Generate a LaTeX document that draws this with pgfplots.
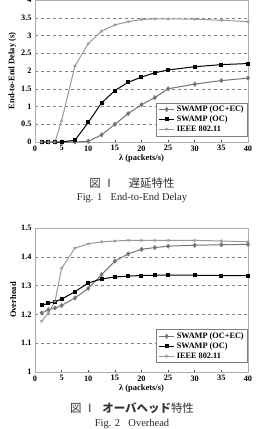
\documentclass[border=0pt]{standalone}
\usepackage{pgfplots}
\pgfplotsset{compat=1.18}
\usepackage{fontspec}
\setmainfont{Liberation Serif}
\newfontfamily\cjk{Noto Sans CJK JP}

\definecolor{ieee}{gray}{0.6}
\definecolor{ocec}{gray}{0.45}
\definecolor{gridc}{gray}{0.5}
\definecolor{framec}{gray}{0.68}

\pgfplotsset{
  swampstyle/.style={
    scale only axis,
    width=213bp,
    xmin=0, xmax=40,
    xtick={0,5,...,40},
    axis line style={framec, line width=0.6bp},
    tick style={black!70, line width=0.5bp},
    major tick length=2.5bp,
    ytick pos=left,
    xtick pos=bottom,
    xtick align=inside,
    ytick style={draw=none},
    ymajorgrids,
    grid style={gridc, dashed, line width=0.5bp},
    /pgf/number format/assume math mode=true,
    tick label style={font=\bfseries\fontsize{8.3}{9}\selectfont},
    label style={font=\bfseries\fontsize{8.5}{10}\selectfont},
    xlabel={λ (packets/s)},
    xlabel style={yshift=3bp},
    ylabel style={yshift=-2bp},
    legend cell align=left,
    legend style={draw=gray, line width=0.5bp, fill=white,
      font=\bfseries\fontsize{8.3}{9.5}\selectfont,
      inner xsep=2bp, inner ysep=1bp, row sep=-1.2bp},
    legend image post style={xscale=0.9},
  },
  ocec/.style={color=ocec, line width=1bp, mark=diamond*, mark size=1.8bp},
  oc/.style={color=black, line width=1bp, mark=square*, mark size=1.5bp},
  ieee/.style={color=ieee, line width=1bp, mark=asterisk, mark size=1.8bp,
    mark options={line width=0.5bp}},
}

\begin{document}
\begin{tikzpicture}
\path[use as bounding box] (0bp,0bp) rectangle (256bp,-429bp);

% End-to-end delay
\begin{axis}[swampstyle,
  at={(35bp,-142bp)}, anchor=south west,
  height=142bp,
  ymin=0, ymax=4,
  ytick={0,0.5,...,4},
  yticklabels={0,0.5,1,1.5,2,2.5,3,3.5,4},
  ylabel={End-to-End Delay (s)},
  legend style={at={(1,0.042)}, anchor=south east},
]
\addplot[ocec] coordinates {
  (1.25,0) (2.5,0) (3.75,0) (5,0) (7.5,0) (10,0.02) (12.5,0.2) (15,0.5)
  (17.5,0.8) (20,1.05) (22.5,1.25) (25,1.5) (30,1.63) (35,1.73) (40,1.8)};
\addlegendentry{SWAMP (OC+EC)}
\addplot[oc] coordinates {
  (1.25,0) (2.5,0) (3.75,0) (5,0) (7.5,0.05) (10,0.55) (12.5,1.1) (15,1.45)
  (17.5,1.68) (20,1.83) (22.5,1.95) (25,2.03) (30,2.12) (35,2.18) (40,2.21)};
\addlegendentry{SWAMP (OC)}
\addplot[ieee] coordinates {
  (1.25,0) (2.5,0) (3.75,0) (5,0.6) (7.5,2.14) (10,2.77) (12.5,3.12) (15,3.3)
  (17.5,3.39) (20,3.45) (22.5,3.47) (25,3.47) (30,3.46) (35,3.43) (40,3.39)};
\addlegendentry{IEEE 802.11}
\end{axis}

\node[font=\cjk\fontsize{11.5}{13}\selectfont, text=black!80] at (132bp,-183bp) {図 Ⅰ\hspace{1.2em}遅延特性};
\node[font=\fontsize{10.5}{12}\selectfont, text=black!85] at (132bp,-198bp) {Fig. 1\hspace{0.8em}End-to-End Delay};

% Overhead
\begin{axis}[swampstyle,
  at={(35bp,-372bp)}, anchor=south west,
  height=144bp,
  ymin=1, ymax=1.5,
  ytick={1,1.1,...,1.5},
  yticklabels={1,1.1,1.2,1.3,1.4,1.5},
  ylabel={Overhead},
  legend style={at={(1,0.063)}, anchor=south east},
]
\addplot[ocec] coordinates {
  (1.25,1.205) (2.5,1.216) (3.75,1.222) (5,1.231) (7.5,1.257) (10,1.29)
  (12.5,1.338) (15,1.385) (17.5,1.41) (20,1.426) (22.5,1.432) (25,1.437)
  (30,1.44) (35,1.442) (40,1.443)};
\addlegendentry{SWAMP (OC+EC)}
\addplot[oc] coordinates {
  (1.25,1.232) (2.5,1.238) (3.75,1.244) (5,1.253) (7.5,1.279) (10,1.309)
  (12.5,1.323) (15,1.33) (17.5,1.333) (20,1.335) (22.5,1.336) (25,1.336)
  (30,1.336) (35,1.335) (40,1.335)};
\addlegendentry{SWAMP (OC)}
\addplot[ieee] coordinates {
  (1.25,1.176) (2.5,1.205) (3.75,1.245) (5,1.36) (7.5,1.43) (10,1.445)
  (12.5,1.452) (15,1.455) (17.5,1.457) (20,1.457) (22.5,1.457) (25,1.457)
  (30,1.457) (35,1.455) (40,1.452)};
\addlegendentry{IEEE 802.11}
\end{axis}

\node[font=\cjk\fontsize{11.5}{13}\selectfont, text=black!80] at (132bp,-408bp) {図 Ⅰ\hspace{0.6em}{\bfseries オーバヘッド}特性};
\node[font=\fontsize{10.5}{12}\selectfont, text=black!85] at (132bp,-424bp) {Fig. 2\hspace{0.8em}Overhead};
\end{tikzpicture}
\end{document}
